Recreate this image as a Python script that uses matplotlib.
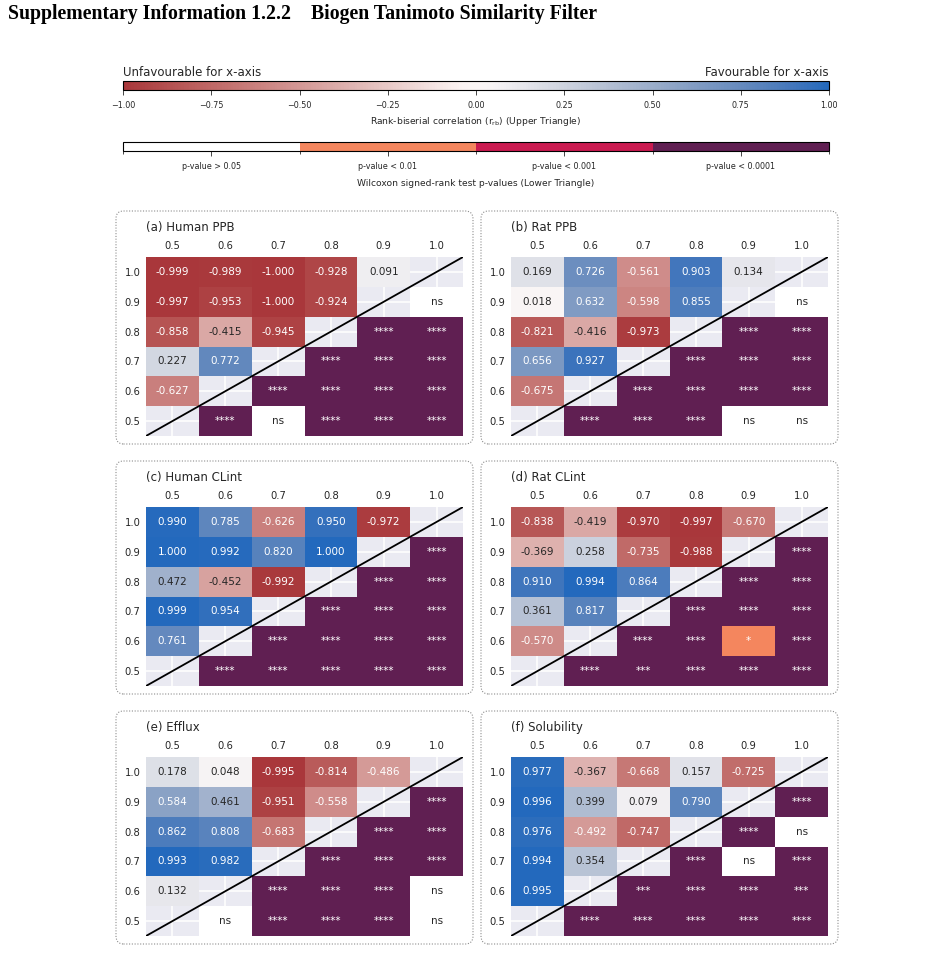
import numpy as np
import matplotlib.pyplot as plt
import seaborn as sns
from matplotlib.colors import ListedColormap, Normalize, BoundaryNorm, to_rgb
from matplotlib.cm import ScalarMappable
from matplotlib.patches import FancyBboxPatch

plt.rcParams['font.family'] = ['DejaVu Sans']
plt.rcParams['text.color'] = '#262626'
plt.rcParams['xtick.color'] = '#262626'
plt.rcParams['ytick.color'] = '#262626'

# similarity thresholds (columns left->right, rows top->bottom)
thresholds = ["0.5", "0.6", "0.7", "0.8", "0.9", "1.0"]
row_labels = thresholds[::-1]

panel_titles = ["(a) Human PPB", "(b) Rat PPB", "(c) Human CLint",
                "(d) Rat CLint", "(e) Efflux", "(f) Solubility"]

# upper triangle: rank-biserial r, one list per row (row 1.0 first)
rb_human_ppb = [[-0.999, -0.989, -1.000, -0.928, 0.091],
                [-0.997, -0.953, -1.000, -0.924],
                [-0.858, -0.415, -0.945],
                [0.227, 0.772],
                [-0.627],
                []]
rb_rat_ppb = [[0.169, 0.726, -0.561, 0.903, 0.134],
              [0.018, 0.632, -0.598, 0.855],
              [-0.821, -0.416, -0.973],
              [0.656, 0.927],
              [-0.675],
              []]
rb_human_clint = [[0.990, 0.785, -0.626, 0.950, -0.972],
                  [1.000, 0.992, 0.820, 1.000],
                  [0.472, -0.452, -0.992],
                  [0.999, 0.954],
                  [0.761],
                  []]
rb_rat_clint = [[-0.838, -0.419, -0.970, -0.997, -0.670],
                [-0.369, 0.258, -0.735, -0.988],
                [0.910, 0.994, 0.864],
                [0.361, 0.817],
                [-0.570],
                []]
rb_efflux = [[0.178, 0.048, -0.995, -0.814, -0.486],
             [0.584, 0.461, -0.951, -0.558],
             [0.862, 0.808, -0.683],
             [0.993, 0.982],
             [0.132],
             []]
rb_solubility = [[0.977, -0.367, -0.668, 0.157, -0.725],
                 [0.996, 0.399, 0.079, 0.790],
                 [0.976, -0.492, -0.747],
                 [0.994, 0.354],
                 [0.995],
                 []]

# lower triangle: Wilcoxon significance, one list per row (row 1.0 first)
sig_human_ppb = [[], ["ns"], ["****", "****"], ["****", "****", "****"],
                 ["****", "****", "****", "****"],
                 ["****", "ns", "****", "****", "****"]]
sig_rat_ppb = [[], ["ns"], ["****", "****"], ["****", "****", "****"],
               ["****", "****", "****", "****"],
               ["****", "****", "****", "ns", "ns"]]
sig_human_clint = [[], ["****"], ["****", "****"], ["****", "****", "****"],
                   ["****", "****", "****", "****"],
                   ["****", "****", "****", "****", "****"]]
sig_rat_clint = [[], ["****"], ["****", "****"], ["****", "****", "****"],
                 ["****", "****", "*", "****"],
                 ["****", "***", "****", "****", "****"]]
sig_efflux = [[], ["****"], ["****", "****"], ["****", "****", "****"],
              ["****", "****", "****", "ns"],
              ["ns", "****", "****", "****", "ns"]]
sig_solubility = [[], ["****"], ["****", "ns"], ["****", "ns", "****"],
                  ["***", "****", "****", "***"],
                  ["****", "****", "****", "****", "****"]]

rb_data = [rb_human_ppb, rb_rat_ppb, rb_human_clint,
           rb_rat_clint, rb_efflux, rb_solubility]
sig_data = [sig_human_ppb, sig_rat_ppb, sig_human_clint,
            sig_rat_clint, sig_efflux, sig_solubility]

p_labels = ["p-value > 0.05", "p-value < 0.01", "p-value < 0.001", "p-value < 0.0001"]
sig_level = {"ns": 0, "*": 1, "**": 2, "***": 3, "****": 3}

rb_cmap = sns.color_palette("vlag_r", as_cmap=True)
p_cmap = ListedColormap(["#ffffff"] + sns.color_palette("rocket_r", 3))
p_norm = BoundaryNorm([-0.5, 0.5, 1.5, 2.5, 3.5], 4)

W, H = 934, 975
fig = plt.figure(figsize=(W / 100, H / 100), dpi=100)


def px_axes(x0, y0, x1, y1):
    return fig.add_axes([x0 / W, 1 - y1 / H, (x1 - x0) / W, (y1 - y0) / H])


def text_color(rgb):
    rgb = np.array(to_rgb(rgb))
    rgb = np.where(rgb <= .03928, rgb / 12.92, ((rgb + .055) / 1.055) ** 2.4)
    lum = rgb.dot([.2126, .7152, .0722])
    return "#262626" if lum > .408 else "white"


fig.text(8 / W, 1 - 14 / H,
         "Supplementary Information 1.2.2    Biogen Tanimoto Similarity Filter",
         family="Liberation Serif", weight="bold", fontsize=14.2, color="black",
         ha="left", va="center")

# colour bars
cax1 = px_axes(123, 81, 829, 90)
cb1 = fig.colorbar(ScalarMappable(norm=Normalize(-1, 1), cmap=rb_cmap),
                   cax=cax1, orientation="horizontal")
cb1.set_ticks(np.linspace(-1, 1, 9))
cb1.ax.tick_params(labelsize=5.8, length=3.5, width=0.6, pad=4.5)
cb1.outline.set_linewidth(0.8)
fig.text(123 / W, 1 - 72 / H, "Unfavourable for x-axis", fontsize=8.5, ha="left", va="center")
fig.text(829 / W, 1 - 72 / H, "Favourable for x-axis", fontsize=8.5, ha="right", va="center")
fig.text(476 / W, 1 - 122 / H,
         r"Rank-biserial correlation ($\mathregular{r_{rb}}$) (Upper Triangle)",
         fontsize=6.6, ha="center", va="center")

cax2 = px_axes(123, 142, 829, 151)
cb2 = fig.colorbar(ScalarMappable(norm=p_norm, cmap=p_cmap), cax=cax2,
                   orientation="horizontal")
cb2.set_ticks(range(len(p_labels)))
cb2.set_ticklabels(p_labels)
cb2.ax.tick_params(labelsize=5.8, length=3.5, width=0.6, pad=4.5)
cb2.outline.set_linewidth(0.8)
fig.text(476 / W, 1 - 184 / H,
         "Wilcoxon signed-rank test p-values (Lower Triangle)",
         fontsize=6.6, ha="center", va="center")

# panels
col_x = [(146, 463), (511, 828)]
row_y = [(257, 436), (507, 686), (757, 936)]
box_x = [(116, 473), (481, 838)]
box_y = [(211, 444), (461, 694), (711, 944)]
n = len(thresholds)

for k in range(6):
    r, c = divmod(k, 2)
    bx0, bx1 = box_x[c]
    by0, by1 = box_y[r]
    box = FancyBboxPatch((bx0 / W, 1 - by1 / H), (bx1 - bx0) / W, (by1 - by0) / H,
                         boxstyle="round,pad=0,rounding_size=0.008",
                         transform=fig.transFigure, fill=False,
                         ec="#8c8c8c", lw=0.8, ls=(0, (1, 1.5)))
    fig.add_artist(box)

    x0, x1 = col_x[c]
    y0, y1 = row_y[r]
    ax = px_axes(x0, y0, x1, y1)
    ax.set_facecolor("#eaeaf2")
    ax.grid(True, color="white", lw=1.1)
    ax.set_axisbelow(True)
    for s in ax.spines.values():
        s.set_visible(False)

    upper = np.full((n, n), np.nan)
    lower = np.full((n, n), np.nan)
    lower_txt = {}
    for i in range(n):
        for j, v in enumerate(rb_data[k][i]):
            upper[i, j] = v
        for m, lab in enumerate(sig_data[k][i]):
            j = n - len(sig_data[k][i]) + m
            lower[i, j] = sig_level[lab]
            lower_txt[(i, j)] = lab

    edges = np.arange(n + 1)
    ax.pcolormesh(edges, edges, np.ma.masked_invalid(upper), cmap=rb_cmap,
                  vmin=-1, vmax=1, linewidth=0)
    ax.pcolormesh(edges, edges, np.ma.masked_invalid(lower), cmap=p_cmap,
                  norm=p_norm, linewidth=0)

    for i in range(n):
        for j in range(n):
            if not np.isnan(upper[i, j]):
                col = rb_cmap((upper[i, j] + 1) / 2)
                ax.text(j + 0.5, i + 0.5, f"{upper[i, j]:.3f}", ha="center", va="center",
                        fontsize=7.5, color=text_color(col))
            elif (i, j) in lower_txt:
                col = p_cmap(int(lower[i, j]))
                ax.text(j + 0.5, i + 0.5, lower_txt[(i, j)], ha="center", va="center",
                        fontsize=7.5, color=text_color(col))

    ax.plot([0, 1], [0, 1], transform=ax.transAxes, color="black", lw=1.3)

    ax.set_xlim(0, n)
    ax.set_ylim(n, 0)
    ax.set_xticks(edges[:-1] + 0.5)
    ax.set_xticklabels(thresholds)
    ax.set_yticks(edges[:-1] + 0.5)
    ax.set_yticklabels(row_labels)
    ax.xaxis.tick_top()
    ax.tick_params(length=0, labelsize=7.2, pad=4)
    ax.text(0, 1 + 30 / (y1 - y0), panel_titles[k], transform=ax.transAxes,
            fontsize=8.5, ha="left", va="center")

fig.savefig("out.png", dpi=100, facecolor="white")
